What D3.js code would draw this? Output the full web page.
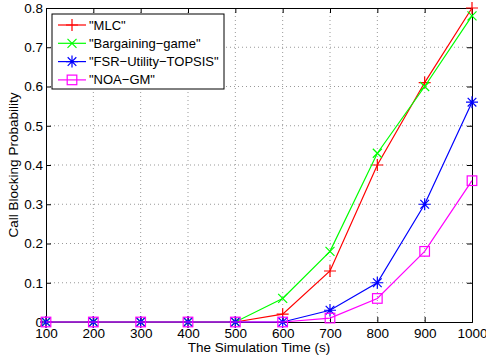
<!DOCTYPE html>
<html>
<head>
<meta charset="utf-8">
<script src="https://cdn.jsdelivr.net/npm/d3@7"></script>
<style>
  body { margin: 0; background: #fff; }
  svg text { font-family: "Liberation Sans", Arial, sans-serif; }
</style>
</head>
<body>
<div id="chart"></div>
<script>
// Daten
const simTime = [100, 200, 300, 400, 500, 600, 700, 800, 900, 1000];
const mlc = [0, 0, 0, 0, 0, 0.02, 0.13, 0.40, 0.61, 0.80];
const bargaining = [0, 0, 0, 0, 0, 0.06, 0.18, 0.43, 0.60, 0.78];
const fsrTopsis = [0, 0, 0, 0, 0, 0, 0.03, 0.10, 0.30, 0.56];
const noaGm = [0, 0, 0, 0, 0, 0, 0.01, 0.06, 0.18, 0.36];
const yTicks = [0, 0.1, 0.2, 0.3, 0.4, 0.5, 0.6, 0.7, 0.8];

const series = [
    { name: "\"MLC\"", values: mlc, color: "#ff0000", marker: "plus" },
    { name: "\"Bargaining\u2212game\"", values: bargaining, color: "#00ff00", marker: "x" },
    { name: "\"FSR\u2212Utility\u2212TOPSIS\"", values: fsrTopsis, color: "#0000ff", marker: "star" },
    { name: "\"NOA\u2212GM\"", values: noaGm, color: "#ff00ff", marker: "square" }
];

const W = 486, H = 358;
const margin = { top: 8, right: 14, bottom: 36, left: 46 };
const width = W - margin.left - margin.right;
const height = H - margin.top - margin.bottom;
const fontSize = "13.5px";

const svg = d3.select("#chart")
    .append("svg")
    .attr("width", W)
    .attr("height", H);

const g = svg.append("g")
    .attr("transform", `translate(${margin.left},${margin.top})`);

const xScale = d3.scaleLinear().domain([100, 1000]).range([0, width]);
const yScale = d3.scaleLinear().domain([0, 0.8]).range([height, 0]);

// Gitterlinien (gepunktet)
g.append("g")
    .selectAll("line")
    .data(simTime.slice(1, -1))
    .enter()
    .append("line")
    .attr("x1", d => xScale(d)).attr("x2", d => xScale(d))
    .attr("y1", 0).attr("y2", height)
    .attr("stroke", "#999")
    .attr("stroke-width", 1)
    .attr("stroke-dasharray", "1,3");

g.append("g")
    .selectAll("line")
    .data(yTicks.slice(1, -1))
    .enter()
    .append("line")
    .attr("x1", 0).attr("x2", width)
    .attr("y1", d => yScale(d)).attr("y2", d => yScale(d))
    .attr("stroke", "#999")
    .attr("stroke-width", 1)
    .attr("stroke-dasharray", "1,3");

// Achsen, Ticks nach innen wie bei MATLAB
const xAxis = g.append("g")
    .attr("transform", `translate(0,${height})`)
    .call(d3.axisBottom(xScale).tickValues(simTime).tickSize(-5).tickPadding(6).tickFormat(d3.format("d")));
const yAxis = g.append("g")
    .call(d3.axisLeft(yScale).tickValues(yTicks).tickSize(-5).tickPadding(3).tickFormat(d => d === 0 ? "0" : d3.format(".1f")(d)));
const xTop = g.append("g")
    .call(d3.axisTop(xScale).tickValues(simTime).tickSize(-5).tickFormat(""));
const yRight = g.append("g")
    .attr("transform", `translate(${width},0)`)
    .call(d3.axisRight(yScale).tickValues(yTicks).tickSize(-5).tickFormat(""));

[xAxis, yAxis, xTop, yRight].forEach(a => {
    a.select(".domain").attr("stroke", "#000").attr("stroke-width", 1);
    a.selectAll(".tick line").attr("stroke", "#000");
    a.selectAll("text").attr("fill", "#000").style("font-size", fontSize);
});

// Achsenbeschriftungen
svg.append("text")
    .attr("x", margin.left + width / 2)
    .attr("y", 352)
    .attr("text-anchor", "middle")
    .style("font-size", fontSize)
    .text("The Simulation Time (s)");

svg.append("text")
    .attr("transform", `translate(18,${margin.top + height / 2}) rotate(-90)`)
    .attr("text-anchor", "middle")
    .style("font-size", fontSize)
    .text("Call Blocking Probability");

// Marker zeichnen
function drawMarker(sel, type, color, s) {
    if (type === "plus") {
        sel.append("path").attr("d", `M${-s},0H${s}M0,${-s}V${s}`);
    } else if (type === "x") {
        const k = s * 0.75;
        sel.append("path").attr("d", `M${-k},${-k}L${k},${k}M${-k},${k}L${k},${-k}`);
    } else if (type === "star") {
        const k = s * 0.72;
        sel.append("path").attr("d", `M${-s},0H${s}M0,${-s}V${s}M${-k},${-k}L${k},${k}M${-k},${k}L${k},${-k}`);
    } else if (type === "square") {
        const k = s * 0.8;
        sel.append("rect").attr("x", -k).attr("y", -k).attr("width", 2 * k).attr("height", 2 * k).attr("fill", "none");
    }
    sel.selectAll("path, rect").attr("stroke", color).attr("stroke-width", 1.2);
}

const line = d3.line()
    .x((d, i) => xScale(simTime[i]))
    .y(d => yScale(d));

series.forEach(s => {
    g.append("path")
        .datum(s.values)
        .attr("fill", "none")
        .attr("stroke", s.color)
        .attr("stroke-width", 1.2)
        .attr("d", line);

    g.selectAll(null)
        .data(s.values)
        .enter()
        .append("g")
        .attr("transform", (d, i) => `translate(${xScale(simTime[i])},${yScale(d)})`)
        .each(function () { drawMarker(d3.select(this), s.marker, s.color, 6); });
});

// Legende
const legend = svg.append("g").attr("transform", "translate(52,14)");
legend.append("rect")
    .attr("width", 172)
    .attr("height", 75)
    .attr("fill", "#fff")
    .attr("stroke", "#000")
    .attr("stroke-width", 1);

series.forEach((s, i) => {
    const row = legend.append("g").attr("transform", `translate(0,${11 + i * 18.3})`);
    row.append("line")
        .attr("x1", 6).attr("x2", 34)
        .attr("stroke", s.color).attr("stroke-width", 1.2);
    drawMarker(row.append("g").attr("transform", "translate(20,0)"), s.marker, s.color, 6);
    row.append("text")
        .attr("x", 37)
        .attr("y", 4.5)
        .style("font-size", "13px")
        .text(s.name);
});
</script>
</body>
</html>
